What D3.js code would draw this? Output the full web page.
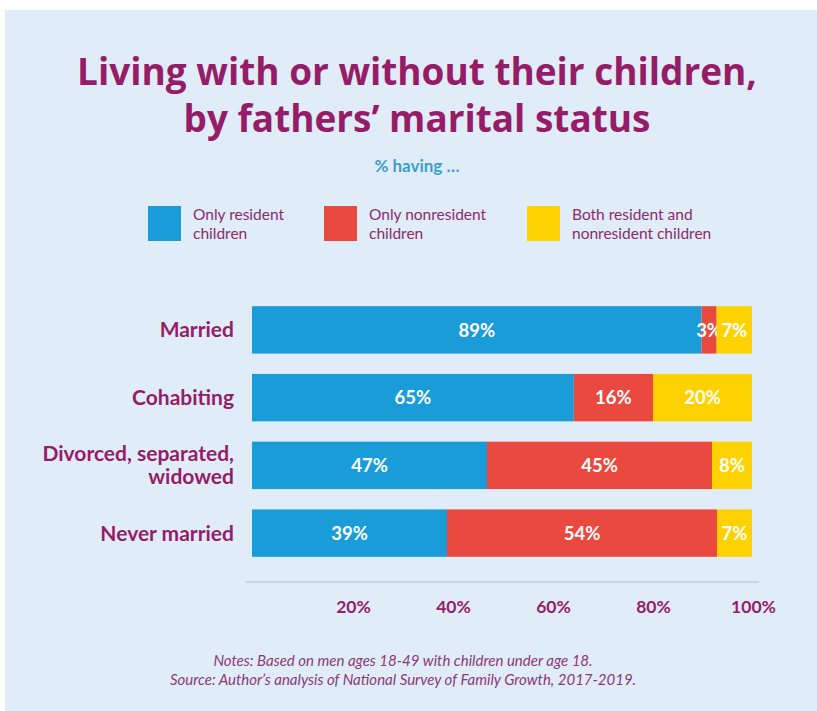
<!DOCTYPE html>
<html>
<head>
<meta charset="utf-8">
<script src="https://cdn.jsdelivr.net/npm/d3@7"></script>
<style>
  html, body { margin: 0; padding: 0; background: #ffffff; }
  svg { display: block; font-family: Lato, "Open Sans", sans-serif; }
</style>
</head>
<body>
<svg id="chart" width="817" height="711"></svg>
<script>
// Marital status groups (top to bottom)
const categories = ["Married", "Cohabiting", "Divorced, separated, widowed", "Never married"];
const categoryLines = [["Married"], ["Cohabiting"], ["Divorced, separated,", "widowed"], ["Never married"]];

// Share of fathers (%) in each living arrangement
const onlyResident    = [89, 65, 47, 39];
const onlyNonresident = [3, 16, 45, 54];
const bothKinds       = [7, 20, 8, 7];

const seriesKeys   = ["onlyResident", "onlyNonresident", "bothKinds"];
const seriesLabels = [["Only resident", "children"], ["Only nonresident", "children"], ["Both resident and", "nonresident children"]];
const seriesColors = ["#1a9cd8", "#e9493e", "#fdd200"];

const tickValues = [0.2, 0.4, 0.6, 0.8, 1.0];
const tickLabels = ["20%", "40%", "60%", "80%", "100%"];

const rows = categories.map((c, i) => ({
  category: c,
  onlyResident: onlyResident[i],
  onlyNonresident: onlyNonresident[i],
  bothKinds: bothKinds[i]
}));

const svg = d3.select("#chart");
const purple = "#951d68";

// Panel background
svg.append("rect").attr("x", 5).attr("y", 10).attr("width", 812).attr("height", 701).attr("fill", "#e0ecf8");

// Title, two lines; size fitted to the width of the first line
const titleLines = ["Living with or without their children,", "by fathers\u2019 marital status"];
const titleBaselines = [85, 132];
const titleTexts = titleLines.map((line, i) =>
  svg.append("text").attr("x", 417).attr("y", titleBaselines[i])
    .attr("text-anchor", "middle").attr("fill", purple)
    .attr("font-family", "'Open Sans', sans-serif")
    .attr("font-weight", 700).attr("font-size", 36).text(line));
const w1 = titleTexts[0].node().getComputedTextLength();
titleTexts.forEach(t => t.attr("font-size", 36 * 680 / w1));

svg.append("text").attr("x", 417).attr("y", 172).attr("text-anchor", "middle")
  .attr("fill", "#3aa0cd").attr("font-size", 17).attr("font-weight", 700)
  .text("% having \u2026");

// Legend
const legendX = [148, 324, 527];
seriesKeys.forEach((k, i) => {
  const g = svg.append("g").attr("transform", `translate(${legendX[i]},206)`);
  g.append("rect").attr("width", 33).attr("height", 35).attr("fill", seriesColors[i]);
  const t = g.append("text").attr("fill", "#8c2b6e").attr("font-size", 15.5);
  seriesLabels[i].forEach((line, j) => {
    t.append("tspan").attr("x", 45).attr("y", 14 + j * 19).text(line);
  });
});

// Scales
const x = d3.scaleLinear().domain([0, 1]).range([252, 752]);
const y = d3.scaleBand().domain(categories).range([296, 567]).paddingInner(0.3).paddingOuter(0.15);

const stack = d3.stack().keys(seriesKeys).offset(d3.stackOffsetExpand);
const stacked = stack(rows);

const layers = svg.append("g").selectAll("g").data(stacked).join("g")
  .attr("fill", (d, i) => seriesColors[i]);

layers.selectAll("rect").data(d => d).join("rect")
  .attr("x", d => x(d[0]))
  .attr("y", d => y(d.data.category))
  .attr("width", d => x(d[1]) - x(d[0]))
  .attr("height", y.bandwidth());

// Value labels inside segments
layers.each(function(layer) {
  d3.select(this).selectAll("text").data(layer).join("text")
    .attr("x", d => (x(d[0]) + x(d[1])) / 2)
    .attr("y", d => y(d.data.category) + y.bandwidth() / 2)
    .attr("dy", "0.36em")
    .attr("text-anchor", "middle")
    .attr("fill", "#ffffff")
    .attr("font-weight", 700)
    .attr("font-size", 18.5)
    .text(d => d.data[layer.key] + "%");
});

// Category labels
categories.forEach((c, i) => {
  const lines = categoryLines[i];
  const cy = y(c) + y.bandwidth() / 2;
  const t = svg.append("text").attr("text-anchor", "end").attr("fill", purple)
    .attr("font-weight", 700).attr("font-size", 21);
  lines.forEach((line, j) => {
    t.append("tspan").attr("x", 234)
      .attr("y", cy + (j - (lines.length - 1) / 2) * 23)
      .attr("dy", "0.36em").text(line);
  });
});

// Bottom axis
svg.append("line").attr("x1", 246).attr("x2", 759).attr("y1", 582).attr("y2", 582)
  .attr("stroke", "#bccbdc").attr("stroke-width", 1.5);

const axis = d3.axisBottom(x).tickValues(tickValues)
  .tickFormat((d, i) => tickLabels[i]).tickSize(0).tickPadding(0);
const axisG = svg.append("g").attr("transform", "translate(1,601)").call(axis);
axisG.select(".domain").remove();
axisG.selectAll("text").attr("fill", purple).attr("font-size", 17.5)
  .attr("font-weight", 700).attr("font-family", "Lato, sans-serif");

// Notes
const notes = svg.append("text").attr("text-anchor", "middle").attr("fill", "#8c3a76")
  .attr("font-style", "italic").attr("font-size", 15);
notes.append("tspan").attr("x", 403).attr("y", 666).text("Notes: Based on men ages 18-49 with children under age 18.");
notes.append("tspan").attr("x", 403).attr("y", 685).text("Source: Author\u2019s analysis of National Survey of Family Growth, 2017-2019.");
</script>
</body>
</html>
